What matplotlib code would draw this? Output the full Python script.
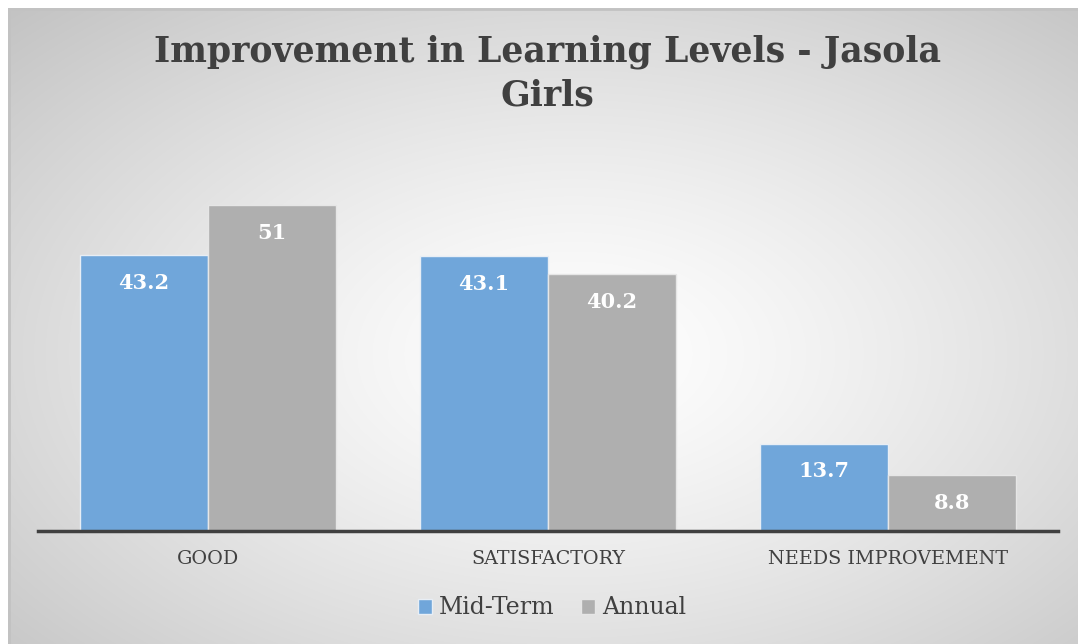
from matplotlib import pyplot as plt
import numpy as np

W, H = 1078, 644
DPI = 100

# COLORS
BLUE = "#70A6DA"
GRAY = "#AFAFAF"
DARK = "#404040"

categories = ["GOOD", "SATISFACTORY", "NEEDS IMPROVEMENT"]
mid_term = [43.2, 43.1, 13.7]
annual = [51, 40.2, 8.8]
series_names = ["Mid-Term", "Annual"]

SERIF = ["DejaVu Serif"]


def add_background(fig):
    bg = fig.add_axes([0, 0, 1, 1], zorder=-10)
    bg.set_xlim(0, W)
    bg.set_ylim(H, 0)
    bg.axis("off")
    yy, xx = np.mgrid[0:H, 0:W]
    cx, cy = 570, 350
    r = np.sqrt(((xx - cx) / 560.0) ** 2 + ((yy - cy) / 340.0) ** 2) / np.sqrt(2)
    val = 1.0 - 0.23 * np.clip(r, 0, 1.1) ** 1.3
    img = np.dstack([val, val, val])
    bg.imshow(img, extent=(8, W, H, 8), interpolation="bilinear", aspect="auto")
    # frame edges, only top and left are visible in the source
    bg.plot([8, W], [8.5, 8.5], color="#C2C2C2", linewidth=2, solid_capstyle="butt")
    bg.plot([8.5, 8.5], [8, H], color="#C2C2C2", linewidth=2, solid_capstyle="butt")


def main():
    fig = plt.figure(figsize=(W / DPI, H / DPI), dpi=DPI)
    fig.patch.set_facecolor("white")
    add_background(fig)

    ax = fig.add_axes([38 / W, (H - 531) / H, 1020 / W, (531 - 148) / H])
    ax.patch.set_alpha(0)
    x = np.arange(len(categories))
    bw = 128 / 340
    b1 = ax.bar(x - bw / 2, mid_term, bw, color=BLUE, edgecolor="#E8EEF5",
                linewidth=1, label=series_names[0])
    b2 = ax.bar(x + bw / 2, annual, bw, color=GRAY, edgecolor="#E6E6E6",
                linewidth=1, label=series_names[1])

    for bars, vals in ((b1, mid_term), (b2, annual)):
        for rect, v in zip(bars, vals):
            ax.annotate(f"{v:g}", (rect.get_x() + rect.get_width() / 2, v),
                        xytext=(0, -20), textcoords="offset points",
                        ha="center", va="center", color="white",
                        fontsize=15, fontweight="bold", family=SERIF)

    ax.set_xlim(-0.5, 2.5)
    ax.set_ylim(0, 60)
    ax.set_yticks([])
    ax.set_xticks(x)
    ax.set_xticklabels(categories, family=SERIF, fontsize=13.8, color=DARK)
    ax.tick_params(axis="x", length=0, pad=14)
    for side in ("top", "right", "left"):
        ax.spines[side].set_visible(False)
    ax.spines["bottom"].set_color(DARK)
    ax.spines["bottom"].set_linewidth(2.5)

    fig.text(0.508, 1 - 52 / H, "Improvement in Learning Levels - Jasola",
             ha="center", va="center", fontsize=25, fontweight="bold",
             color=DARK, family=SERIF)
    fig.text(0.508, 1 - 96 / H, "Girls", ha="center", va="center",
             fontsize=25, fontweight="bold", color=DARK, family=SERIF)

    fig.legend(handles=[b1, b2], loc="center", bbox_to_anchor=(0.512, 1 - 608 / H),
               ncol=2, frameon=False, prop={"family": SERIF, "size": 17},
               handlelength=0.6, handleheight=0.6, handletextpad=0.3,
               columnspacing=1.1, labelcolor=DARK)

    fig.savefig("out.png", dpi=DPI)


if __name__ == "__main__":
    main()
